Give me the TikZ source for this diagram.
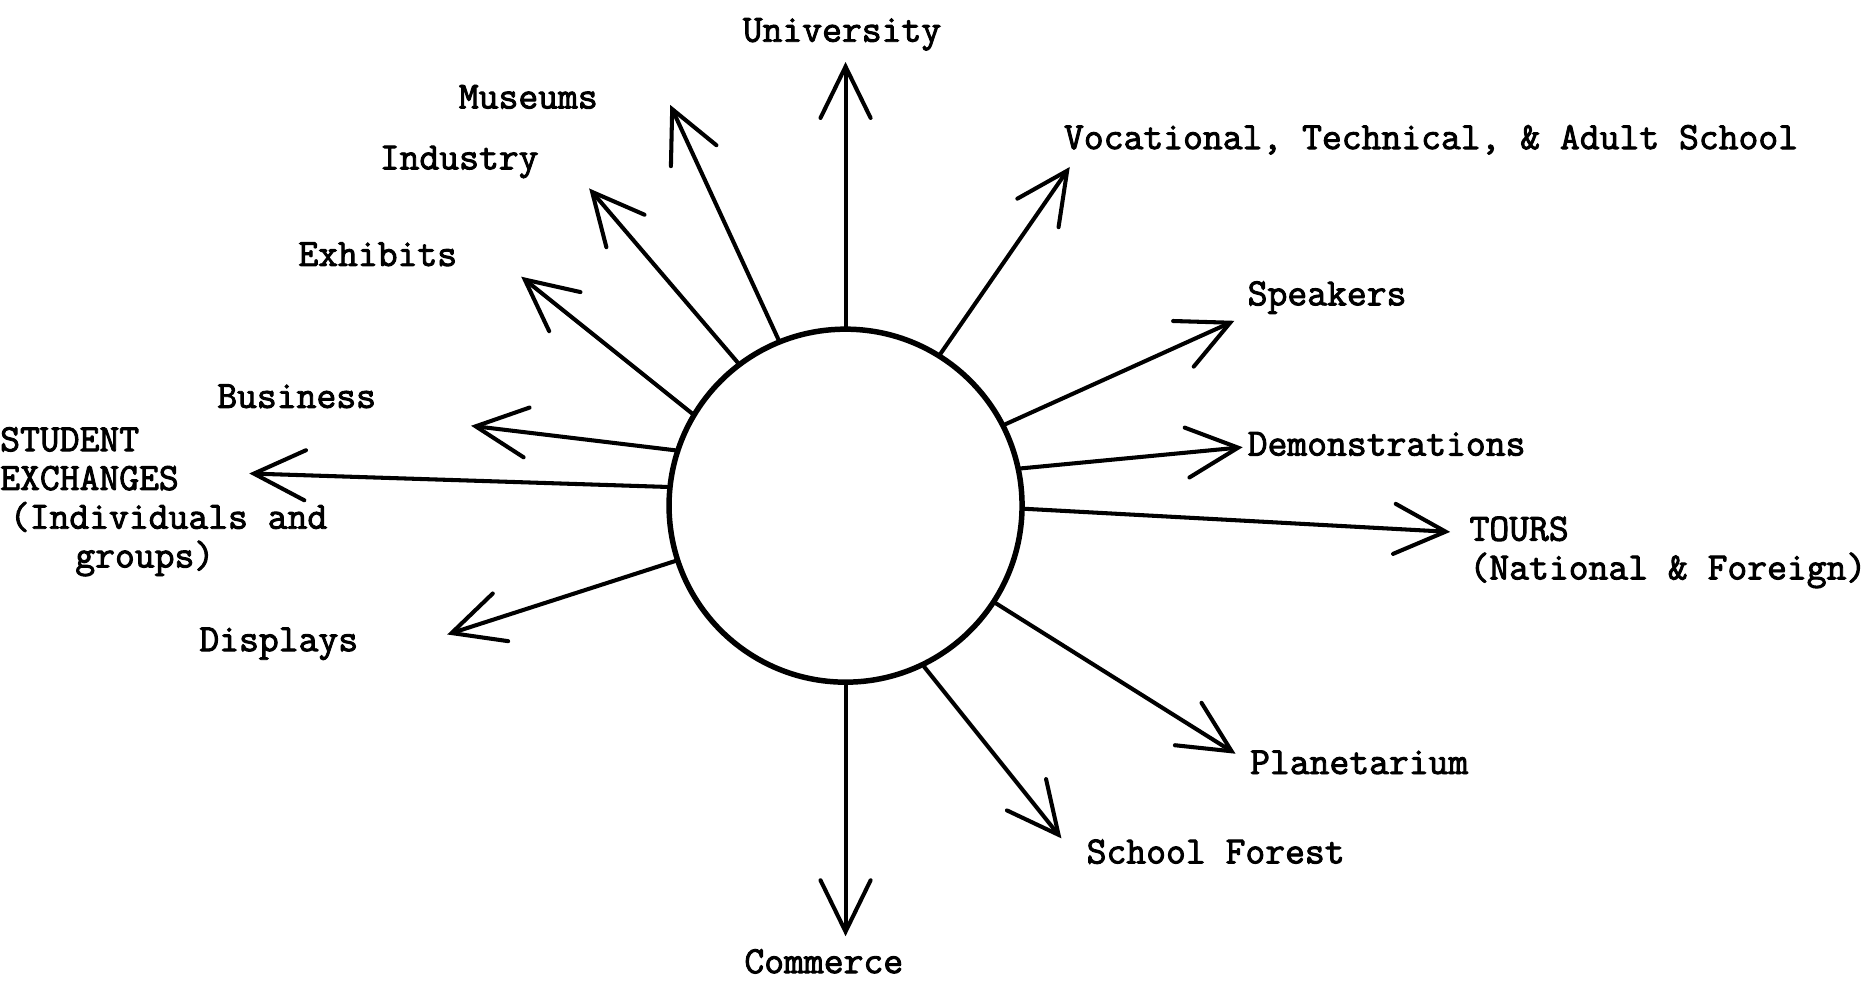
\documentclass[tikz,border=0pt]{standalone}
\usepackage{fontspec}
\setmainfont{Latin Modern Mono}[FakeBold=2.4]
\usetikzlibrary{arrows.meta}
\begin{document}
\begin{tikzpicture}[x=1pt,y=-1pt,
  arr/.style={line width=3.4pt, line cap=round, -{Straight Barb[length=43pt,width=42pt,line cap=round]}},
  lbl/.style={inner sep=0pt, font=\fontsize{32.3}{32.5}\selectfont},
  hub/.style={circle, draw, line width=4.6pt, minimum size=296pt, inner sep=0pt}]
\useasboundingbox (0,0) rectangle (1568,822);
\node[hub] (c) at (709,424) {};
% arrow tips
\coordinate (tUni) at (709,52);
\coordinate (tMus) at (562,88);
\coordinate (tInd) at (494,158);
\coordinate (tExh) at (437,232);
\coordinate (tBus) at (395,357);
\coordinate (tStu) at (209,397);
\coordinate (tDis) at (375,532);
\coordinate (tCom) at (709,785);
\coordinate (tFor) at (890,703);
\coordinate (tPla) at (1036,632);
\coordinate (tTou) at (1216,446);
\coordinate (tDem) at (1042,375);
\coordinate (tSpe) at (1035,269);
\coordinate (tVoc) at (897,140);
% arrows
\draw[arr] (c.90) -- (tUni);
\draw[arr] (c.112.8) -- (tMus);
\draw[arr] (c.127.9) -- (tInd);
\draw[arr] (c.149.2) -- (tExh);
\draw[arr] (c.162.4) -- (tBus);
\draw[arr] (c.174.7) -- (tStu);
\draw[arr] (c.198.8) -- (tDis);
\draw[arr] (c.270) -- (tCom);
\draw[arr] (c.296.1) -- (tFor);
\draw[arr] (c.327.5) -- (tPla);
\draw[arr] (c.-1.1) -- (tTou);
\draw[arr] (c.12.7) -- (tDem);
\draw[arr] (c.27.4) -- (tSpe);
\draw[arr] (c.58.3) -- (tVoc);
% labels
\node[lbl, anchor=base] (lUni) at (706,35) {University};
\node[lbl, anchor=base] (lMus) at (443,91) {Museums};
\node[lbl, anchor=base] (lInd) at (385,142) {Industry};
\node[lbl, anchor=base west] (lExh) at (250,223) {Exhibits};
\node[lbl, anchor=base west] (lBus) at (182,342) {Business};
\node[lbl, anchor=north west, align=left] (lStu) at (0,358) {STUDENT\\EXCHANGES\\\hspace*{0.25em}(Individuals and\\\hspace*{1.95em}groups)};
\node[lbl, anchor=base west] (lDis) at (167,546) {Displays};
\node[lbl, anchor=base west] (lCom) at (624,816) {Commerce};
\node[lbl, anchor=base west] (lFor) at (911,724) {School Forest};
\node[lbl, anchor=base west] (lPla) at (1048,649) {Planetarium};
\node[lbl, anchor=north west, align=left] (lTou) at (1232,433) {TOURS\\(National \& Foreign)};
\node[lbl, anchor=base west] (lDem) at (1046,382) {Demonstrations};
\node[lbl, anchor=base west] (lSpe) at (1046,256) {Speakers};
\node[lbl, anchor=base west] (lVoc) at (892,125) {Vocational, Technical, \& Adult School};
\end{tikzpicture}
\end{document}
